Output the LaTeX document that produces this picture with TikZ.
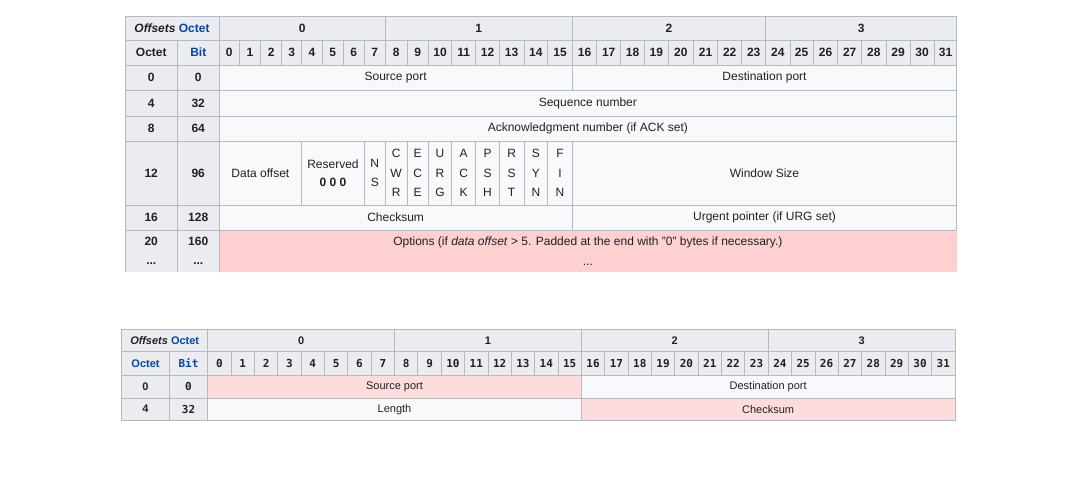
\documentclass[tikz,border=0pt]{standalone}
\usepackage{fontspec}
\setmainfont{Liberation Sans}
\newfontfamily\monob{DejaVu Sans Mono}
\definecolor{hdr}{HTML}{EAECF0}
\definecolor{cellbg}{HTML}{F8F9FA}
\definecolor{bord}{HTML}{B4BAC1}
\definecolor{pinkA}{HTML}{FFD0D0}
\definecolor{pinkB}{HTML}{FDDCDC}
\definecolor{linkblue}{HTML}{0645AD}
\definecolor{ink}{HTML}{202122}
\tikzset{
  cellbase/.style={draw=bord, line width=0.8pt, inner sep=0pt, outer sep=0pt, anchor=north west,
    text=ink, align=center, font=\fontsize{12}{19.5}\selectfont},
  hcell/.style={cellbase, fill=hdr, font=\bfseries\fontsize{12}{19.5}\selectfont},
  dcell/.style={cellbase, fill=cellbg},
  pcellA/.style={cellbase, fill=pinkA},
  hcellS/.style={cellbase, fill=hdr, font=\bfseries\fontsize{11}{14}\selectfont},
  hcellM/.style={cellbase, fill=hdr, font=\monob\bfseries\fontsize{11}{14}\selectfont},
  dcellS/.style={cellbase, fill=cellbg, font=\fontsize{11}{14}\selectfont},
  pcellB/.style={cellbase, fill=pinkB, font=\fontsize{11}{14}\selectfont},
  bordline/.style={draw=bord, line width=0.8pt},
}
\newcommand{\cellat}[7]{\node[#6, minimum width={(#4-#2)*1pt}, minimum height={(#5-#3)*1pt}] (#1) at (#2,#3) {#7};}
\begin{document}
\begin{tikzpicture}[x=1pt,y=-1pt]
\useasboundingbox[fill=white] (0,0) rectangle (1080,480);
% ================= TOP TABLE (TCP) =================
\cellat{tOff}{125}{16}{219}{40}{hcell}{\textit{Offsets} \textcolor{linkblue}{Octet}}
\cellat{tB0}{219}{16}{385.3}{40}{hcell}{0}
\cellat{tB1}{385.3}{16}{572.3}{40}{hcell}{1}
\cellat{tB2}{572.3}{16}{765.7}{40}{hcell}{2}
\cellat{tB3}{765.7}{16}{956.7}{40}{hcell}{3}
\cellat{tOct}{125}{40}{177.5}{65}{hcell}{Octet}
\cellat{tBit}{177.5}{40}{219}{65}{hcell}{\textcolor{linkblue}{Bit}}
\foreach \i/\a/\b in {0/219/239.3,1/239.3/260.7,2/260.7/281.7,3/281.7/301.7,4/301.7/322.3,5/322.3/343.3,6/343.3/364.3,7/364.3/385.3,8/385.3/407,9/407/428.3,10/428.3/451.7,11/451.7/475.7,12/475.7/499.3,13/499.3/524,14/524/547.7,15/547.7/572.3,16/572.3/596.7,17/596.7/620.7,18/620.7/644.3,19/644.3/668.3,20/668.3/693.3,21/693.3/717.7,22/717.7/741.7,23/741.7/765.7,24/765.7/790,25/790/813.3,26/813.3/837.7,27/837.7/861.7,28/861.7/886,29/886/910,30/910/934.3,31/934.3/956.7}
  {\cellat{tbit\i}{\a}{40}{\b}{65}{hcell}{\i}}
% row 0
\cellat{to0}{125}{65}{177.5}{90}{hcell}{0}
\cellat{tb0}{177.5}{65}{219}{90}{hcell}{0}
\cellat{tsrc}{219}{65}{572.3}{90}{dcell}{Source port}
\cellat{tdst}{572.3}{65}{956.7}{90}{dcell}{Destination port}
% row 4
\cellat{to4}{125}{90}{177.5}{116}{hcell}{4}
\cellat{tb32}{177.5}{90}{219}{116}{hcell}{32}
\cellat{tseq}{219}{90}{956.7}{116}{dcell}{Sequence number}
% row 8
\cellat{to8}{125}{116}{177.5}{141}{hcell}{8}
\cellat{tb64}{177.5}{116}{219}{141}{hcell}{64}
\cellat{tack}{219}{116}{956.7}{141}{dcell}{Acknowledgment number (if ACK set)}
% row 12
\cellat{to12}{125}{141}{177.5}{205}{hcell}{12}
\cellat{tb96}{177.5}{141}{219}{205}{hcell}{96}
\cellat{tdoff}{219}{141}{301.7}{205}{dcell}{Data offset}
\cellat{tres}{301.7}{141}{364.3}{205}{dcell}{Reserved\\[-1pt]\textbf{0 0 0}}
\cellat{tns}{364.3}{141}{385.3}{205}{dcell}{N\\S}
\cellat{tcwr}{385.3}{141}{407}{205}{dcell}{C\\W\\R}
\cellat{tece}{407}{141}{428.3}{205}{dcell}{E\\C\\E}
\cellat{turg}{428.3}{141}{451.7}{205}{dcell}{U\\R\\G}
\cellat{tackf}{451.7}{141}{475.7}{205}{dcell}{A\\C\\K}
\cellat{tpsh}{475.7}{141}{499.3}{205}{dcell}{P\\S\\H}
\cellat{trst}{499.3}{141}{524}{205}{dcell}{R\\S\\T}
\cellat{tsyn}{524}{141}{547.7}{205}{dcell}{S\\Y\\N}
\cellat{tfin}{547.7}{141}{572.3}{205}{dcell}{F\\I\\N}
\cellat{twin}{572.3}{141}{956.7}{205}{dcell}{Window Size}
% row 16
\cellat{to16}{125}{205}{177.5}{230}{hcell}{16}
\cellat{tb128}{177.5}{205}{219}{230}{hcell}{128}
\cellat{tchk}{219}{205}{572.3}{230}{dcell}{Checksum}
\cellat{turgp}{572.3}{205}{956.7}{230}{dcell}{Urgent pointer (if URG set)}
% row 20
\cellat{to20}{125}{230}{177.5}{272}{hcell,draw=none}{20\\...}
\cellat{tb160}{177.5}{230}{219}{272}{hcell,draw=none}{160\\...}
\cellat{topt}{219}{230}{956.7}{272}{pcellA,draw=none}{Options (if \textit{data offset} > 5. Padded at the end with "0" bytes if necessary.)\\...}
\draw[bordline] (to20.north west) -- (to20.south west)
  (tb160.north west) -- (tb160.south west)
  (topt.north west) -- (topt.south west)
  (to20.north west) -- (topt.north east);
% ================= BOTTOM TABLE (UDP) =================
\cellat{bOff}{121.7}{329.3}{207.7}{351.7}{hcellS}{\textit{Offsets} \textcolor{linkblue}{Octet}}
\cellat{bB0}{207.7}{329.3}{394.5}{351.7}{hcellS}{0}
\cellat{bB1}{394.5}{329.3}{581.3}{351.7}{hcellS}{1}
\cellat{bB2}{581.3}{329.3}{768.2}{351.7}{hcellS}{2}
\cellat{bB3}{768.2}{329.3}{955}{351.7}{hcellS}{3}
\cellat{bOct}{121.7}{351.7}{169.3}{375}{hcellS}{\textcolor{linkblue}{Octet}}
\cellat{bBit}{169.3}{351.7}{207.7}{375}{hcellM}{\textcolor{linkblue}{Bit}}
\foreach \i in {0,...,31}{
  \pgfmathsetmacro\xa{207.7+23.354*\i}
  \pgfmathsetmacro\xb{\xa+23.354}
  \cellat{bbit\i}{\xa}{351.7}{\xb}{375}{hcellM}{\i}
}
\cellat{bo0}{121.7}{375}{169.3}{398.3}{hcellS}{0}
\cellat{bb0}{169.3}{375}{207.7}{398.3}{hcellM}{0}
\cellat{bsrc}{207.7}{375}{581.3}{398.3}{pcellB}{Source port}
\cellat{bdst}{581.3}{375}{955}{398.3}{dcellS}{Destination port}
\cellat{bo4}{121.7}{398.3}{169.3}{420}{hcellS}{4}
\cellat{bb32}{169.3}{398.3}{207.7}{420}{hcellM}{32}
\cellat{blen}{207.7}{398.3}{581.3}{420}{dcellS}{Length}
\cellat{bchk}{581.3}{398.3}{955}{420}{pcellB}{Checksum}
\end{tikzpicture}
\end{document}
